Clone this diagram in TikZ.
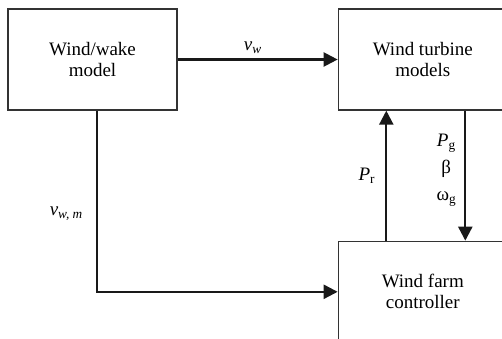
\documentclass[tikz,border=0pt]{standalone}
\usepackage{fontspec}
\setmainfont{Liberation Serif}
\usetikzlibrary{arrows.meta, positioning, calc}

\begin{document}
\begin{tikzpicture}[x=1pt, y=1pt,
        block/.style={rectangle, draw=black!80, line width=1.3pt, minimum width=169pt, minimum height=101pt, inner sep=0pt, text centered, align=center, font=\fontsize{19}{21}\selectfont},
        lbl/.style={font=\fontsize{19}{27}\selectfont, align=center, inner sep=1pt},
        line/.style={draw=black!90, line width=2.3pt, -{Triangle[length=14pt, width=14pt]}}]

    \clip (0,0) rectangle (502,338);

    \node [block] (wake) at (92.5,278.5) {Wind/wake\\model};
    \node [block, right=160pt of wake] (turbine) {Wind turbine\\models};
    \node [block, below=130pt of turbine] (ctrl) {Wind farm\\controller};

    \path [line] (wake.east) -- node [lbl, above=4pt, pos=0.47] {\textit{v}\textsubscript{\textit{w}}} (turbine.west);
    \path [line] ([xshift=4.5pt]wake.south) |- node [lbl, left=12pt, pos=0.285] {\textit{v}\textsubscript{\textit{w, m}}} (ctrl.west);
    \path [line] ([xshift=-36.5pt]ctrl.north) -- node [lbl, left=9pt] {\textit{P}\textsubscript{r}} ([xshift=-36.5pt]turbine.south);
    \path [line] ([xshift=42.5pt]turbine.south) -- node [lbl, left=7pt, pos=0.46] {\textit{P}\textsubscript{g}\\β\\ω\textsubscript{g}} ([xshift=42.5pt]ctrl.north);
\end{tikzpicture}
\end{document}
